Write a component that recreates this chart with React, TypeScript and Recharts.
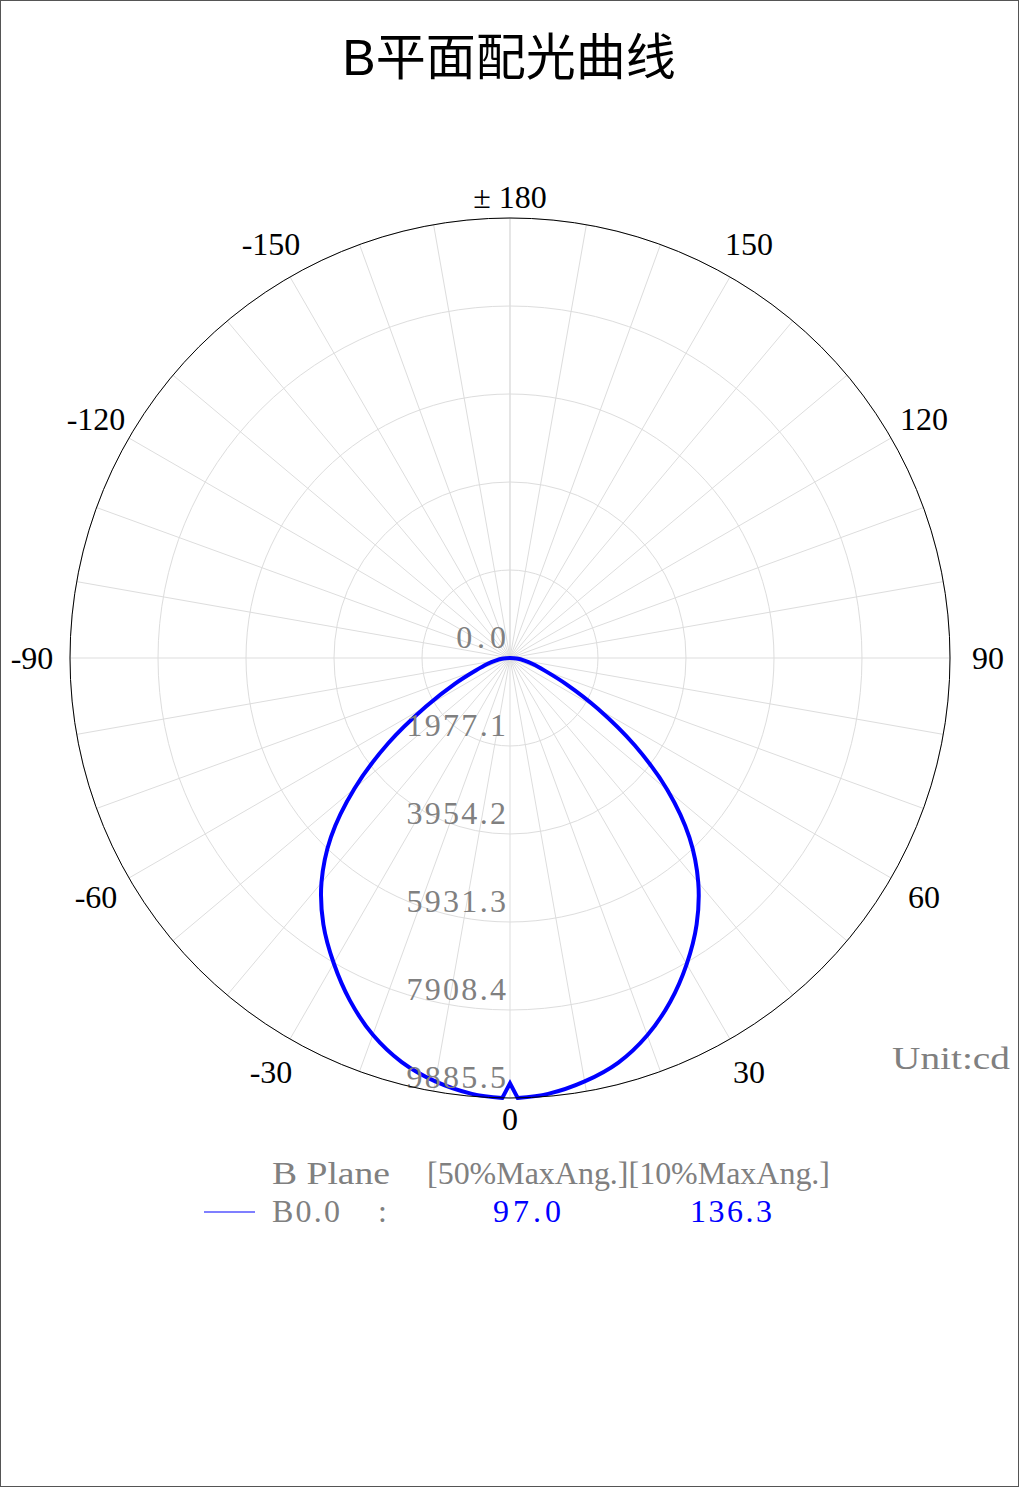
import React from 'react';
import { RadarChart, Radar, PolarGrid, PolarAngleAxis, PolarRadiusAxis } from 'recharts';

// ---- data ----
const angles = [
  -180, -170, -160, -150, -140, -130, -120, -110, -100,
  -90, -85, -80, -75, -70, -65, -60, -55, -50, -45, -40, -35, -30, -25, -20, -15, -10, -5,
  -1, 0, 1,
  5, 10, 15, 20, 25, 30, 35, 40, 45, 50, 55, 60, 65, 70, 75, 80, 85, 90,
  100, 110, 120, 130, 140, 150, 160, 170, 180,
];
const intensity = [
  0, 0, 0, 0, 0, 0, 0, 0, 0,
  0, 150, 330, 540, 820, 1360, 2180, 3340, 4560, 5690, 6590, 7310, 7920, 8500, 9010, 9400, 9660, 9830,
  9885, 9556, 9885,
  9830, 9660, 9410, 9020, 8520, 7940, 7310, 6580, 5700, 4620, 3420, 2280, 1400, 830, 540, 330, 150, 0,
  0, 0, 0, 0, 0, 0, 0, 0, 0,
];
const angleTicks = [
  -180, -170, -160, -150, -140, -130, -120, -110, -100, -90, -80, -70, -60, -50, -40, -30, -20, -10,
  0, 10, 20, 30, 40, 50, 60, 70, 80, 90, 100, 110, 120, 130, 140, 150, 160, 170, 180,
];
const radiusTicks = [0, 1977.1, 3954.2, 5931.3, 7908.4, 9885.5];
const titleText = 'B平面配光曲线';
const unitText = 'Unit:cd';
const legendHeader = ['B Plane', '[50%MaxAng.][10%MaxAng.]'];
const seriesName = 'B0.0';
const beam50 = '97.0';
const beam10 = '136.3';

const data = angles.map((a, i) => ({ angle: a, value: intensity[i] }));

const CX = 510;
const CY = 658;
const SERIF = "'Liberation Serif', 'DejaVu Serif', serif";
const GRAY = '#808080';

type P = { x: number; y: number };

// centripetal Catmull-Rom through the points the library computed
const smoothSeg = (pts: P[]) => {
  const p = pts.filter((q, i) => i === 0 || Math.hypot(q.x - pts[i - 1].x, q.y - pts[i - 1].y) > 0.01);
  let d = '';
  for (let i = 0; i < p.length - 1; i++) {
    const p0 = p[i - 1] || p[i];
    const p1 = p[i];
    const p2 = p[i + 1];
    const p3 = p[i + 2] || p[i + 1];
    const d1 = Math.sqrt(Math.hypot(p1.x - p0.x, p1.y - p0.y));
    const d2 = Math.sqrt(Math.hypot(p2.x - p1.x, p2.y - p1.y));
    const d3 = Math.sqrt(Math.hypot(p3.x - p2.x, p3.y - p2.y));
    let b1x = p1.x, b1y = p1.y, b2x = p2.x, b2y = p2.y;
    if (d1 > 1e-6) {
      const a = d1 * d1, b = d2 * d2, k = 2 * a + 3 * d1 * d2 + b, m = 3 * d1 * (d1 + d2);
      b1x = (a * p2.x - b * p0.x + k * p1.x) / m;
      b1y = (a * p2.y - b * p0.y + k * p1.y) / m;
    }
    if (d3 > 1e-6) {
      const a = d3 * d3, b = d2 * d2, k = 2 * a + 3 * d3 * d2 + b, m = 3 * d3 * (d3 + d2);
      b2x = (a * p1.x - b * p3.x + k * p2.x) / m;
      b2y = (a * p2.y - b * p3.y + k * p2.y) / m;
      b2y = (a * p1.y - b * p3.y + k * p2.y) / m;
    }
    d += ` C${b1x},${b1y} ${b2x},${b2y} ${p2.x},${p2.y}`;
  }
  return d;
};

const SmoothRadarShape = (props: any) => {
  const pts = (props.points || []) as any[];
  if (!pts.length) return <g />;
  const angOf = (q: any, i: number) => Number(q?.payload?.angle ?? angles[i]);
  // split into smooth runs; steps of 1 degree or less are drawn as sharp straight segments
  let d = `M${pts[0].x},${pts[0].y}`;
  let run: P[] = [pts[0]];
  for (let i = 1; i < pts.length; i++) {
    const step = Math.abs(angOf(pts[i], i) - angOf(pts[i - 1], i - 1));
    if (step <= 1) {
      if (run.length > 1) d += smoothSeg(run);
      d += ` L${pts[i].x},${pts[i].y}`;
      run = [pts[i]];
    } else {
      run.push(pts[i]);
    }
  }
  if (run.length > 1) d += smoothSeg(run);
  return (
    <path d={d} fill="none" stroke="#0000ff" strokeWidth={4} strokeLinejoin="miter" strokeLinecap="round" />
  );
};

const AngleTick = (props: any) => {
  const { x, y, payload } = props;
  const v = Number(payload?.value);
  if (v % 30 !== 0) return <g />;
  const dx = x - CX;
  const dy = y - CY;
  const len = Math.sqrt(dx * dx + dy * dy) || 1;
  const d = v === 0 || Math.abs(v) === 180 ? 461 : 478;
  const isPm = Math.abs(v) === 180;
  return (
    <text
      x={CX + (dx / len) * d}
      y={CY + (dy / len) * d}
      textAnchor="middle"
      dominantBaseline="central"
      fontSize={32}
      fontFamily={SERIF}
      fill="#000"
    >
      {isPm ? (
        <>
          <tspan>±</tspan>
          <tspan dx={8}>180</tspan>
        </>
      ) : (
        String(v)
      )}
    </text>
  );
};

const RadiusTick = (props: any) => {
  const { x, y, payload } = props;
  const label = Number(payload?.value).toFixed(1);
  const w = label.length * 16.6;
  return (
    <text
      x={x - 4 - w}
      y={y - 21}
      textAnchor="start"
      dominantBaseline="central"
      fontSize={32}
      fontFamily={SERIF}
      fill={GRAY}
      textLength={w}
      lengthAdjust="spacing"
    >
      {label}
    </text>
  );
};

export default function App() {
  return (
    <div style={{ position: 'absolute', left: 0, top: 0, width: 1019, height: 1487, background: '#fff' }}>
      <div style={{ position: 'absolute', left: 0, top: 0 }}>
        <RadarChart
          width={1019}
          height={1487}
          data={data}
          cx={CX}
          cy={CY}
          innerRadius={0}
          outerRadius={440}
          startAngle={-270}
          endAngle={90}
          margin={{ top: 0, right: 0, bottom: 0, left: 0 }}
        >
          <PolarGrid gridType="circle" stroke="#dddddd" strokeWidth={1} />
          <PolarRadiusAxis
            angle={-90}
            type="number"
            domain={[0, 9885.5]}
            ticks={radiusTicks}
            tickCount={6}
            axisLine={false}
            tickLine={false}
            tick={<RadiusTick />}
            allowDataOverflow
          />
          <PolarAngleAxis
            dataKey="angle"
            type="number"
            domain={[-180, 180]}
            ticks={angleTicks}
            tickCount={37}
            axisLineType="circle"
            axisLine={{ stroke: '#000', strokeWidth: 1 }}
            tickLine={false}
            tick={<AngleTick />}
            allowDataOverflow
          />
          <Radar
            dataKey="value"
            stroke="#0000ff"
            strokeWidth={4}
            fill="none"
            fillOpacity={0}
            dot={false}
            shape={<SmoothRadarShape />}
            isAnimationActive={false}
          />
        </RadarChart>
      </div>
      <svg
        width={1019}
        height={1487}
        style={{ position: 'absolute', left: 0, top: 0, pointerEvents: 'none' }}
      >
        <text
          x={509}
          y={75}
          textAnchor="middle"
          fontSize={50}
          fontFamily="'Liberation Sans', 'Noto Sans CJK SC', sans-serif"
          fill="#000"
        >
          {titleText}
        </text>
        <text x={892} y={1069} fontSize={32} fontFamily={SERIF} fill={GRAY} textLength={118} lengthAdjust="spacingAndGlyphs">
          {unitText}
        </text>
        <text x={272} y={1184} fontSize={32} fontFamily={SERIF} fill={GRAY} textLength={118} lengthAdjust="spacingAndGlyphs">
          {legendHeader[0]}
        </text>
        <text x={427} y={1184} fontSize={32} fontFamily={SERIF} fill={GRAY} textLength={403} lengthAdjust="spacingAndGlyphs">
          {legendHeader[1]}
        </text>
        <line x1={204} y1={1212} x2={255} y2={1212} stroke="#0000ff" strokeWidth={1.2} />
        <text x={272} y={1222} fontSize={32} fontFamily={SERIF} fill={GRAY} textLength={68} lengthAdjust="spacing">
          {seriesName}
        </text>
        <text x={378} y={1222} fontSize={32} fontFamily={SERIF} fill={GRAY}>
          :
        </text>
        <text x={493} y={1222} fontSize={32} fontFamily={SERIF} fill="#0000ff" textLength={68} lengthAdjust="spacing">
          {beam50}
        </text>
        <text x={690} y={1222} fontSize={32} fontFamily={SERIF} fill="#0000ff" textLength={82} lengthAdjust="spacing">
          {beam10}
        </text>
      </svg>
      <div
        style={{
          position: 'absolute',
          left: 0,
          top: 0,
          width: 1019,
          height: 1487,
          border: '1px solid #555',
          boxSizing: 'border-box',
          pointerEvents: 'none',
        }}
      />
    </div>
  );
}
